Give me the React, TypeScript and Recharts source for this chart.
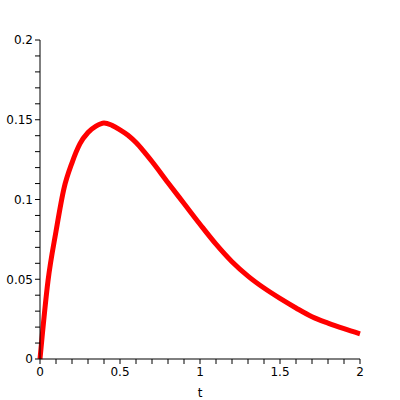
import { LineChart, Line, XAxis, YAxis } from "recharts";

const tValues = [0, 0.05, 0.1, 0.15, 0.2, 0.25, 0.3, 0.35, 0.4, 0.45, 0.5, 0.55, 0.6, 0.65, 0.7, 0.8, 0.9, 1.0, 1.1, 1.2, 1.3, 1.4, 1.5, 1.6, 1.7, 1.8, 1.9, 2.0];
const yValues = [0, 0.049, 0.08, 0.107, 0.123, 0.135, 0.142, 0.146, 0.148, 0.1465, 0.1437, 0.1403, 0.1357, 0.13, 0.1238, 0.1105, 0.0975, 0.0845, 0.072, 0.061, 0.052, 0.0445, 0.038, 0.032, 0.0265, 0.0225, 0.019, 0.0158];

const xTicks = [0, 0.1, 0.2, 0.3, 0.4, 0.5, 0.6, 0.7, 0.8, 0.9, 1, 1.1, 1.2, 1.3, 1.4, 1.5, 1.6, 1.7, 1.8, 1.9, 2];
const xLabels = ["0", "0.5", "1", "1.5", "2"];
const yTicks = [0, 0.01, 0.02, 0.03, 0.04, 0.05, 0.06, 0.07, 0.08, 0.09, 0.1, 0.11, 0.12, 0.13, 0.14, 0.15, 0.16, 0.17, 0.18, 0.19, 0.2];
const yLabels = ["0", "0.05", "0.1", "0.15", "0.2"];

const data = tValues.map((t, i) => ({ t, y: yValues[i] }));

const fmt = (labels: string[]) => (v: number) => {
  const s = String(Math.round(v * 100) / 100);
  return labels.includes(s) ? s : "";
};

const tickStyle = { fontSize: 12, fill: "#000", fontFamily: "DejaVu Sans" };

export default function App() {
  return (
    <div style={{ position: "absolute", left: 0, top: 0, background: "#fff" }}>
      <LineChart
        width={400}
        height={400}
        data={data}
        margin={{ top: 40, right: 40, left: 0, bottom: 0 }}
      >
        <XAxis
          dataKey="t"
          type="number"
          domain={[0, 2]}
          ticks={xTicks}
          interval={0}
          tickFormatter={fmt(xLabels)}
          stroke="#000"
          tickSize={5}
          tickMargin={3}
          height={41}
          tick={tickStyle}
          label={{ value: "t", position: "insideBottom", offset: 3, fill: "#000", fontSize: 12, fontFamily: "DejaVu Sans" }}
        />
        <YAxis
          type="number"
          domain={[0, 0.2]}
          ticks={yTicks}
          interval={0}
          tickFormatter={fmt(yLabels)}
          stroke="#000"
          tickSize={5}
          tickMargin={2}
          width={40}
          tick={tickStyle}
        />
        <Line
          dataKey="y"
          type="monotone"
          stroke="#ff0000"
          strokeWidth={5}
          dot={false}
          isAnimationActive={false}
        />
      </LineChart>
    </div>
  );
}
